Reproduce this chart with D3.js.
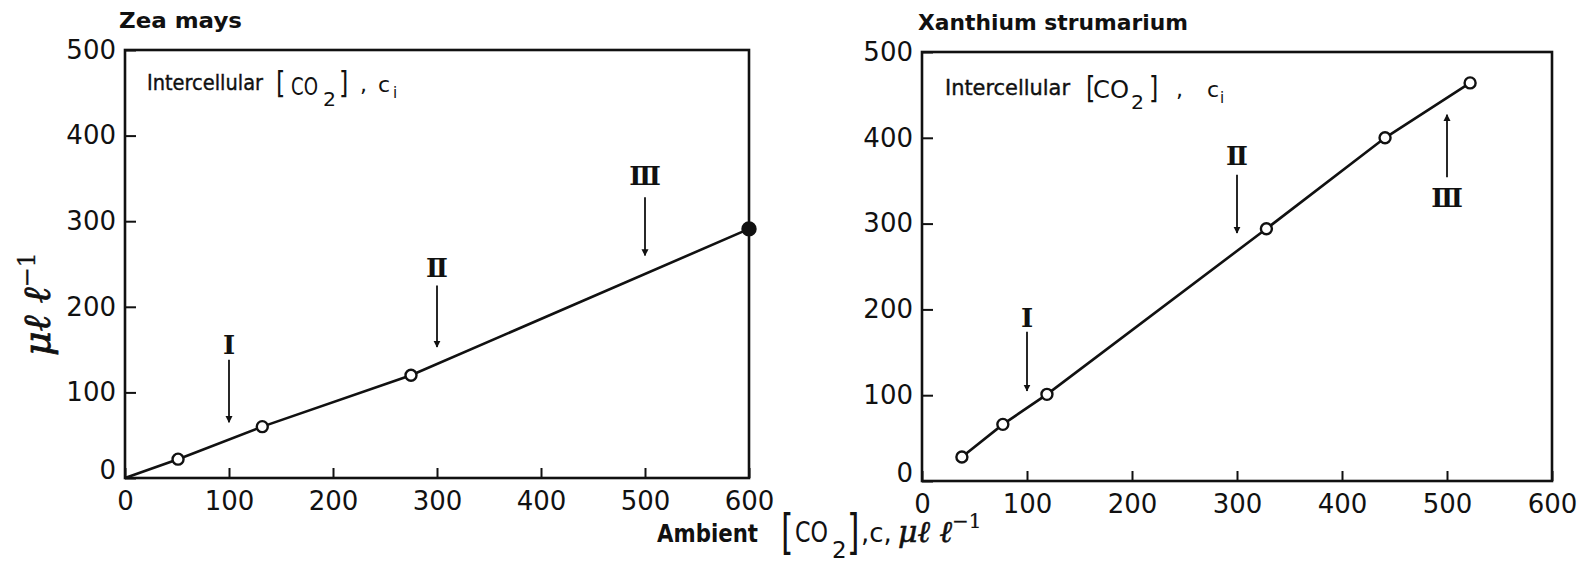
<!DOCTYPE html>
<html>
<head>
<meta charset="utf-8">
<script src="https://cdn.jsdelivr.net/npm/d3@7"></script>
<style>
  html, body { margin: 0; padding: 0; background: #fff; }
  svg { display: block; }
  text { fill: #111; }
</style>
</head>
<body>
<svg id="chart" width="1578" height="563"></svg>
<script>
// Ambient vs intercellular CO2 for a C4 (Zea mays) and a C3 (Xanthium strumarium) leaf
const xTicks = [0, 100, 200, 300, 400, 500, 600];
const yTicks = [0, 100, 200, 300, 400, 500];
const arrowLabels = ["Ⅰ", "Ⅱ", "Ⅲ"];

// Zea mays: line starts at the origin; the last point is the filled one
const zeaAmbient = [0, 51, 132, 275, 600];
const zeaIntercellular = [0, 22, 60, 120, 291];
const zeaArrowX = [100, 300, 500];
const zeaArrowFrom = [138, 225, 328];
const zeaArrowTo = [65, 153, 260];
const zeaLabelY = [156, 246, 353];

// Xanthium strumarium
const xanAmbient = [38, 77, 119, 328, 441, 522];
const xanIntercellular = [28, 66, 101, 294, 400, 464];
const xanArrowX = [100, 300, 500];
const xanArrowFrom = [174, 357, 354];
const xanArrowTo = [105, 289, 427];
const xanLabelY = [190, 379, 330];

const svg = d3.select("#chart");
const ink = "#111";
const sans = "'DejaVu Sans', sans-serif";
const serif = "'DejaVu Serif', serif";

svg.append("defs").append("marker")
  .attr("id", "head")
  .attr("viewBox", "0 0 10 10")
  .attr("refX", 9).attr("refY", 5)
  .attr("markerWidth", 7).attr("markerHeight", 9)
  .attr("markerUnits", "userSpaceOnUse")
  .attr("orient", "auto")
  .append("path").attr("d", "M0,0 L10,5 L0,10 Z").attr("fill", ink);

function panel(cfg) {
  const x = d3.scaleLinear().domain([0, 600]).range(cfg.xRange);
  const y = d3.scaleLinear().domain([0, 500]).range(cfg.yRange);
  const g = svg.append("g");

  // axes with inward ticks
  const ax = g.append("g").attr("transform", `translate(0,${y(0)})`)
    .call(d3.axisBottom(x).tickValues(xTicks).tickSizeInner(-10).tickSizeOuter(0).tickPadding(14));
  const ay = g.append("g").attr("transform", `translate(${x(0)},0)`)
    .call(d3.axisLeft(y).tickValues(yTicks).tickSizeInner(-11).tickSizeOuter(0).tickPadding(9));
  [ax, ay].forEach(a => {
    a.select(".domain").remove();
    a.selectAll(".tick line").attr("stroke", ink).attr("stroke-width", 2);
    a.selectAll(".tick text").attr("font-family", sans).attr("font-size", 26).attr("fill", ink);
  });
  // the zero on the value axis sits a little above the corner
  ay.selectAll(".tick text").filter(d => d === 0).attr("dy", "0.02em");

  // frame
  g.append("rect")
    .attr("x", x(0)).attr("y", y(500))
    .attr("width", x(600) - x(0)).attr("height", y(0) - y(500))
    .attr("fill", "none").attr("stroke", ink).attr("stroke-width", 2.6);

  // data line
  const pts = cfg.xs.map((v, i) => [v, cfg.ys[i]]);
  g.append("path")
    .attr("d", d3.line().x(d => x(d[0])).y(d => y(d[1]))(pts))
    .attr("fill", "none").attr("stroke", ink).attr("stroke-width", 2.6);

  const marked = cfg.startsAtOrigin ? pts.slice(1) : pts;
  g.selectAll("circle.pt").data(marked).join("circle")
    .attr("class", "pt")
    .attr("cx", d => x(d[0])).attr("cy", d => y(d[1]))
    .attr("r", (d, i) => cfg.lastFilled && i === marked.length - 1 ? 6.5 : 5.5)
    .attr("fill", (d, i) => cfg.lastFilled && i === marked.length - 1 ? ink : "#fff")
    .attr("stroke", ink).attr("stroke-width", 2.4);

  // phase arrows with roman numeral labels
  cfg.arrowX.forEach((ax0, i) => {
    g.append("line")
      .attr("x1", x(ax0)).attr("x2", x(ax0))
      .attr("y1", y(cfg.arrowFrom[i])).attr("y2", y(cfg.arrowTo[i]))
      .attr("stroke", ink).attr("stroke-width", 1.8)
      .attr("marker-end", "url(#head)");
    g.append("text")
      .attr("x", x(ax0)).attr("y", y(cfg.labelY[i]))
      .attr("dy", "0.36em")
      .attr("text-anchor", "middle")
      .attr("font-family", serif).attr("font-weight", "bold")
      .attr("font-size", 26)
      .text(arrowLabels[i]);
  });

  // panel title
  g.append("text")
    .attr("x", cfg.title.x).attr("y", cfg.title.y)
    .attr("font-family", sans).attr("font-weight", "bold").attr("font-size", 22)
    .attr("textLength", cfg.title.w).attr("lengthAdjust", "spacingAndGlyphs")
    .text(cfg.title.text);

  // "Intercellular [CO2], ci" note
  const n = cfg.note;
  const t = (txt, px, py, size, w) => {
    const el = g.append("text").attr("x", px).attr("y", py)
      .attr("font-family", sans).attr("font-size", size).text(txt);
    if (w) el.attr("textLength", w).attr("lengthAdjust", "spacingAndGlyphs");
    return el;
  };
  t("Intercellular", n.x, n.y, 21, n.w).attr("stroke", ink).attr("stroke-width", 0.4);
  g.append("text").attr("transform", `translate(${n.lb},${n.y + 3}) scale(1,1.25)`)
    .attr("font-family", sans).attr("font-size", 24).text("[");
  t("CO", n.co, n.y + n.coDy, 24, n.coW);
  t("2", n.two, n.y + n.coDy + 11, 19, 13);
  g.append("text").attr("transform", `translate(${n.rb},${n.y + 3}) scale(1,1.25)`)
    .attr("font-family", sans).attr("font-size", 24).text("]");
  t(",", n.comma, n.y + 2, 22);
  t("c", n.c, n.y + 2, 22);
  t("i", n.i, n.y + 8, 15);

  return { x, y };
}

panel({
  xRange: [125, 749], yRange: [478, 50],
  xs: zeaAmbient, ys: zeaIntercellular, startsAtOrigin: true, lastFilled: true,
  arrowX: zeaArrowX, arrowFrom: zeaArrowFrom, arrowTo: zeaArrowTo, labelY: zeaLabelY,
  title: { text: "Zea mays", x: 119, y: 28, w: 123 },
  note: { x: 147, y: 90, w: 116, lb: 276, co: 291, coW: 27, coDy: 5, two: 323, rb: 339, comma: 360, c: 378, i: 393 }
});

panel({
  xRange: [922, 1552], yRange: [481, 52],
  xs: xanAmbient, ys: xanIntercellular, startsAtOrigin: false, lastFilled: false,
  arrowX: xanArrowX, arrowFrom: xanArrowFrom, arrowTo: xanArrowTo, labelY: xanLabelY,
  title: { text: "Xanthium strumarium", x: 918, y: 30, w: 270 },
  note: { x: 945, y: 95, w: 125, lb: 1086, co: 1093, coW: 36, coDy: 3, two: 1131, rb: 1149, comma: 1176, c: 1207, i: 1220 }
});

// shared axis titles
const yt = svg.append("text")
  .attr("transform", "translate(50,304) rotate(-90)")
  .attr("text-anchor", "middle")
  .attr("font-family", serif).attr("font-style", "italic").attr("font-size", 38)
  .attr("stroke", ink).attr("stroke-width", 0.8);
yt.append("tspan").text("μℓ ℓ");
yt.append("tspan").attr("font-size", 24).attr("dy", -15).attr("font-style", "normal").attr("stroke-width", 0.3).text("−1");

svg.append("text").attr("x", 657).attr("y", 542)
  .attr("font-family", sans).attr("font-weight", "bold").attr("font-size", 25)
  .attr("textLength", 101).attr("lengthAdjust", "spacingAndGlyphs")
  .text("Ambient");
svg.append("text").attr("transform", "translate(781,549) scale(1,1.5)")
  .attr("font-family", sans).attr("font-size", 32).text("[");
svg.append("text").attr("x", 795).attr("y", 542)
  .attr("font-family", sans).attr("font-size", 28)
  .attr("textLength", 33).attr("lengthAdjust", "spacingAndGlyphs").text("CO");
svg.append("text").attr("x", 832).attr("y", 558)
  .attr("font-family", sans).attr("font-size", 23).text("2");
svg.append("text").attr("transform", "translate(847,549) scale(1,1.5)")
  .attr("font-family", sans).attr("font-size", 32).text("]");
svg.append("text").attr("x", 861).attr("y", 542)
  .attr("font-family", sans).attr("font-size", 26).text(",c,");
const xt = svg.append("text").attr("x", 898).attr("y", 542)
  .attr("font-family", serif).attr("font-style", "italic").attr("font-size", 30)
  .attr("stroke", ink).attr("stroke-width", 0.6);
xt.append("tspan").text("μℓ ℓ");
xt.append("tspan").attr("font-size", 20).attr("dy", -14).attr("font-style", "normal").attr("stroke-width", 0.2).text("−1");
</script>
</body>
</html>
